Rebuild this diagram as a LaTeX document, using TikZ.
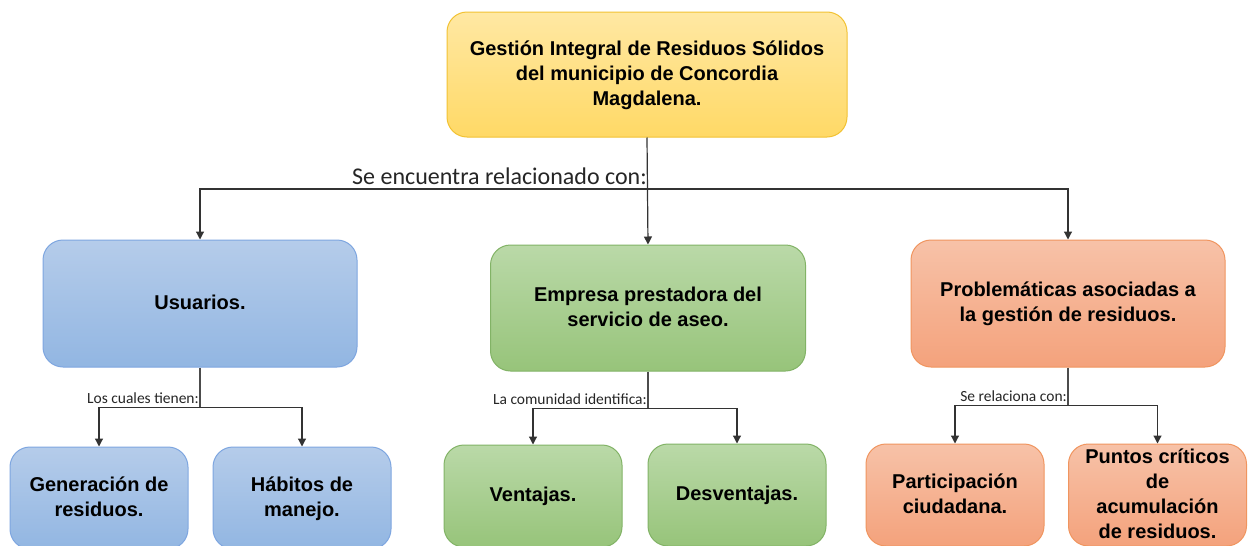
\documentclass[tikz,border=0pt]{standalone}
\usepackage{fontspec}
\setmainfont{Liberation Sans}
\newfontfamily\lblfont{Carlito}
\usetikzlibrary{arrows.meta}
\definecolor{yelTop}{HTML}{FFE8A3}
\definecolor{yelBot}{HTML}{FFD966}
\definecolor{yelLine}{HTML}{F2C233}
\definecolor{bluTop}{HTML}{B5CCEA}
\definecolor{bluBot}{HTML}{92B6E2}
\definecolor{bluLine}{HTML}{7EA6E0}
\definecolor{grnTop}{HTML}{BAD9A8}
\definecolor{grnBot}{HTML}{97C47A}
\definecolor{grnLine}{HTML}{82B366}
\definecolor{orgTop}{HTML}{F7C2A8}
\definecolor{orgBot}{HTML}{F4A27C}
\definecolor{orgLine}{HTML}{F0955F}
\tikzset{
  box/.style={rounded corners=20pt,line width=1pt,align=center,
    font=\bfseries\fontsize{20}{25}\selectfont,inner sep=0pt,text depth=3pt},
  yelbox/.style={box,draw=yelLine,top color=yelTop,bottom color=yelBot},
  blubox/.style={box,draw=bluLine,top color=bluTop,bottom color=bluBot},
  grnbox/.style={box,draw=grnLine,top color=grnTop,bottom color=grnBot},
  orgbox/.style={box,draw=orgLine,top color=orgTop,bottom color=orgBot},
  conn/.style={draw=black!80,line width=1.2pt,-{Triangle[length=8pt,width=8pt]}},
  bus/.style={draw=black!70,line width=1.2pt},
  lbl/.style={anchor=south east,inner xsep=1pt,inner ysep=4pt,text=black!85}
}
\begin{document}
\begin{tikzpicture}[x=1pt,y=-1pt]
  \clip (0,0) rectangle (1254,546);
  \fill[white] (0,0) rectangle (1254,546);
  % main boxes
  \node[yelbox,minimum width=400,minimum height=125] (gestion) at (647,74.5)
    {Gestión Integral de Residuos Sólidos\\del municipio de Concordia\\Magdalena.};
  \node[blubox,minimum width=314,minimum height=127] (usuarios) at (200,303.5) {Usuarios.};
  \node[grnbox,minimum width=315,minimum height=126] (empresa) at (648,308)
    {Empresa prestadora del\\servicio de aseo.};
  \node[orgbox,minimum width=314,minimum height=127] (problemas) at (1068,303.5)
    {Problemáticas asociadas a\\la gestión de residuos.};
  % second row
  \begin{scope}[every node/.append style={minimum width=178,minimum height=102}]
    \node[blubox] (generacion) at (99,498) {Generación de\\residuos.};
    \node[blubox] (habitos) at (302,498) {Hábitos de\\manejo.};
    \node[grnbox] (ventajas) at (533,496) {Ventajas.};
    \node[grnbox] (desventajas) at (737,495) {Desventajas.};
    \node[orgbox] (participacion) at (955,495) {Participación\\ciudadana.};
    \node[orgbox] (puntos) at (1157.5,495) {Puntos críticos\\de\\acumulación\\de residuos.};
  \end{scope}
  % junction points
  \coordinate (g-bus) at (648,189);
  \path (usuarios.south) ++(0,40) coordinate (u-bus);
  \path (empresa.south) ++(0,37) coordinate (e-bus);
  \path (problemas.south) ++(0,38) coordinate (p-bus);
  % connectors
  \draw[conn] (gestion.south) -- (empresa.north);
  \draw[conn] (g-bus) -| (usuarios.north);
  \draw[conn] (g-bus) -| (problemas.north);
  \draw[bus] (usuarios.south) -- (u-bus);
  \draw[conn] (u-bus) -| (generacion.north);
  \draw[conn] (u-bus) -| (habitos.north);
  \draw[bus] (empresa.south) -- (e-bus);
  \draw[conn] (e-bus) -| (ventajas.north);
  \draw[conn] (e-bus) -| (desventajas.north);
  \draw[bus] (problemas.south) -- (p-bus);
  \draw[conn] (p-bus) -| (participacion.north);
  \draw[conn] (p-bus) -| (puntos.north);
  % labels
  \node[lbl,font=\lblfont\fontsize{24}{28}\selectfont] (l-gestion) at (g-bus) {Se encuentra relacionado con:};
  \node[lbl,font=\lblfont\fontsize{15.5}{18}\selectfont] (l-usuarios) at (u-bus) {Los cuales tienen:};
  \node[lbl,font=\lblfont\fontsize{15.5}{18}\selectfont] (l-empresa) at (e-bus) {La comunidad identifica:};
  \node[lbl,font=\lblfont\fontsize{15.5}{18}\selectfont] (l-problemas) at (p-bus) {Se relaciona con:};
\end{tikzpicture}
\end{document}
